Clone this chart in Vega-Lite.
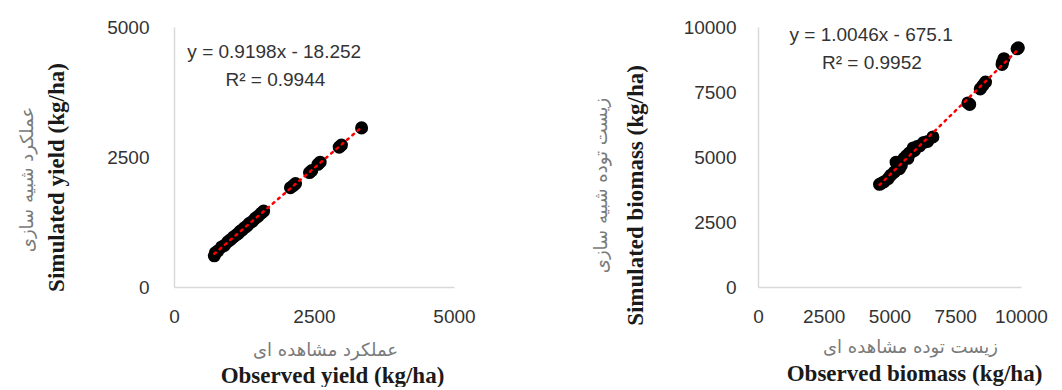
{
  "$schema": "https://vega.github.io/schema/vega-lite/v6.json",
  "background": "white",
  "padding": {"left": 18, "top": 18, "right": 5, "bottom": 0},
  "spacing": 116,
  "datasets": {
    "yield": [
      {"observed": 720, "simulated": 600},
      {"observed": 740, "simulated": 660},
      {"observed": 780, "simulated": 690},
      {"observed": 850, "simulated": 770},
      {"observed": 900, "simulated": 800},
      {"observed": 960, "simulated": 870},
      {"observed": 1010, "simulated": 910},
      {"observed": 1060, "simulated": 960},
      {"observed": 1110, "simulated": 1000},
      {"observed": 1150, "simulated": 1030},
      {"observed": 1180, "simulated": 1070},
      {"observed": 1220, "simulated": 1100},
      {"observed": 1260, "simulated": 1140},
      {"observed": 1300, "simulated": 1170},
      {"observed": 1340, "simulated": 1220},
      {"observed": 1400, "simulated": 1260},
      {"observed": 1450, "simulated": 1320},
      {"observed": 1500, "simulated": 1360},
      {"observed": 1560, "simulated": 1420},
      {"observed": 1600, "simulated": 1460},
      {"observed": 2080, "simulated": 1910},
      {"observed": 2130, "simulated": 1950},
      {"observed": 2170, "simulated": 1990},
      {"observed": 2420, "simulated": 2200},
      {"observed": 2460, "simulated": 2240},
      {"observed": 2570, "simulated": 2360},
      {"observed": 2610, "simulated": 2400},
      {"observed": 2950, "simulated": 2690},
      {"observed": 2990, "simulated": 2730},
      {"observed": 3350, "simulated": 3060}
    ],
    "biomass": [
      {"observed": 4620, "simulated": 3950},
      {"observed": 4700, "simulated": 3990},
      {"observed": 4800, "simulated": 4050},
      {"observed": 4950, "simulated": 4170},
      {"observed": 5050, "simulated": 4300},
      {"observed": 5180, "simulated": 4420},
      {"observed": 5250, "simulated": 4800},
      {"observed": 5300, "simulated": 4700},
      {"observed": 5380, "simulated": 4550},
      {"observed": 5450, "simulated": 4680},
      {"observed": 5550, "simulated": 4950},
      {"observed": 5650, "simulated": 5050},
      {"observed": 5700, "simulated": 4950},
      {"observed": 5750, "simulated": 5150},
      {"observed": 5850, "simulated": 5200},
      {"observed": 5900, "simulated": 5350},
      {"observed": 5950, "simulated": 5250},
      {"observed": 6050, "simulated": 5400},
      {"observed": 6150, "simulated": 5430},
      {"observed": 6300, "simulated": 5560},
      {"observed": 6450, "simulated": 5600},
      {"observed": 6650, "simulated": 5770},
      {"observed": 7980, "simulated": 7080},
      {"observed": 8050, "simulated": 7020},
      {"observed": 8450, "simulated": 7620},
      {"observed": 8550, "simulated": 7750},
      {"observed": 8650, "simulated": 7880},
      {"observed": 9280, "simulated": 8560},
      {"observed": 9300, "simulated": 8650},
      {"observed": 9350, "simulated": 8780},
      {"observed": 9850, "simulated": 9160},
      {"observed": 9900, "simulated": 9200}
    ]
  },
  "config": {
    "view": {"stroke": null},
    "axis": {
      "grid": false,
      "ticks": false,
      "domainColor": "#d9d9d9",
      "domainWidth": 1.5,
      "labelFont": "Liberation Sans",
      "labelFontSize": 19,
      "labelColor": "#333333",
      "labelFlush": false,
      "labelOverlap": false,
      "format": "d"
    }
  },
  "hconcat": [
    {
      "width": 280,
      "height": 260,
      "layer": [
        {
          "data": {"name": "yield"},
          "mark": {"type": "circle", "size": 170, "color": "black", "opacity": 1},
          "encoding": {
            "x": {"field": "observed", "type": "quantitative",
              "scale": {"domain": [0, 5000], "nice": false, "zero": true},
              "axis": {"orient": "bottom", "values": [0, 2500, 5000], "labelPadding": 20, "format": "d",
                "title": "عملکرد مشاهده ای", "titleFont": "DejaVu Sans", "titleFontSize": 18,
                "titleFontWeight": "normal", "titleColor": "#7a7a7a", "titlePadding": 15, "titleX": 151}},
            "y": {"field": "simulated", "type": "quantitative",
              "scale": {"domain": [0, 5000], "nice": false, "zero": true},
              "axis": {"orient": "left", "values": [0, 2500, 5000], "labelPadding": 25, "format": "d",
                "title": "Simulated yield (kg/ha)", "titleFont": "Liberation Serif", "titleFontSize": 23,
                "titleFontWeight": "bold", "titleColor": "#1a1a1a", "titlePadding": 38, "titleY": 150}}
          }
        },
        {
          "data": {"name": "yield"},
          "transform": [{"regression": "simulated", "on": "observed"}],
          "mark": {"type": "line", "color": "#ff0000", "strokeWidth": 2.5, "strokeDash": [2, 5], "strokeCap": "round"},
          "encoding": {
            "x": {"field": "observed", "type": "quantitative",
              "axis": {"orient": "bottom", "labels": false, "domain": false, "ticks": false,
                "title": "Observed yield (kg/ha)", "titleFont": "Liberation Serif", "titleFontSize": 23,
                "titleFontWeight": "bold", "titleColor": "#1a1a1a", "titlePadding": 77, "titleX": 158}},
            "y": {"field": "simulated", "type": "quantitative",
              "axis": {"orient": "left", "labels": false, "domain": false, "ticks": false,
                "title": "عملکرد شبیه سازی", "titleFont": "DejaVu Sans", "titleFontSize": 18,
                "titleFontWeight": "normal", "titleColor": "#7a7a7a", "titlePadding": 138, "titleY": 152}}
          }
        },
        {
          "data": {"values": [{}]},
          "mark": {"type": "text", "font": "Liberation Sans", "fontSize": 19, "color": "#333333", "align": "center", "baseline": "middle", "text": "y = 0.9198x - 18.252"},
          "encoding": {"x": {"datum": 1790, "type": "quantitative", "axis": null}, "y": {"datum": 4520, "type": "quantitative", "axis": null}}
        },
        {
          "data": {"values": [{}]},
          "mark": {"type": "text", "font": "Liberation Sans", "fontSize": 19, "color": "#333333", "align": "center", "baseline": "middle", "text": "R² = 0.9944"},
          "encoding": {"x": {"datum": 1810, "type": "quantitative", "axis": null}, "y": {"datum": 3980, "type": "quantitative", "axis": null}}
        }
      ],
      "resolve": {"axis": {"x": "independent", "y": "independent"}}
    },
    {
      "width": 263,
      "height": 260,
      "layer": [
        {
          "data": {"name": "biomass"},
          "mark": {"type": "circle", "size": 170, "color": "black", "opacity": 1},
          "encoding": {
            "x": {"field": "observed", "type": "quantitative",
              "scale": {"domain": [0, 10000], "nice": false, "zero": true},
              "axis": {"orient": "bottom", "values": [0, 2500, 5000, 7500, 10000], "labelPadding": 20, "format": "d",
                "title": "زیست توده مشاهده ای", "titleFont": "DejaVu Sans", "titleFontSize": 18,
                "titleFontWeight": "normal", "titleColor": "#7a7a7a", "titlePadding": 12, "titleX": 152}},
            "y": {"field": "simulated", "type": "quantitative",
              "scale": {"domain": [0, 10000], "nice": false, "zero": true},
              "axis": {"orient": "left", "values": [0, 2500, 5000, 7500, 10000], "labelPadding": 22, "format": "d",
                "title": "Simulated biomass (kg/ha)", "titleFont": "Liberation Serif", "titleFontSize": 23,
                "titleFontWeight": "bold", "titleColor": "#1a1a1a", "titlePadding": 36, "titleY": 168}}
          }
        },
        {
          "data": {"name": "biomass"},
          "transform": [{"regression": "simulated", "on": "observed"}],
          "mark": {"type": "line", "color": "#ff0000", "strokeWidth": 2.5, "strokeDash": [2, 5], "strokeCap": "round"},
          "encoding": {
            "x": {"field": "observed", "type": "quantitative",
              "axis": {"orient": "bottom", "labels": false, "domain": false, "ticks": false,
                "title": "Observed biomass (kg/ha)", "titleFont": "Liberation Serif", "titleFontSize": 23,
                "titleFontWeight": "bold", "titleColor": "#1a1a1a", "titlePadding": 75, "titleX": 156}},
            "y": {"field": "simulated", "type": "quantitative",
              "axis": {"orient": "left", "labels": false, "domain": false, "ticks": false,
                "title": "زیست توده شبیه سازی", "titleFont": "DejaVu Sans", "titleFontSize": 18,
                "titleFontWeight": "normal", "titleColor": "#7a7a7a", "titlePadding": 148, "titleY": 158}}
          }
        },
        {
          "data": {"values": [{}]},
          "mark": {"type": "text", "font": "Liberation Sans", "fontSize": 19, "color": "#333333", "align": "center", "baseline": "middle", "text": "y = 1.0046x - 675.1"},
          "encoding": {"x": {"datum": 4300, "type": "quantitative", "axis": null}, "y": {"datum": 9690, "type": "quantitative", "axis": null}}
        },
        {
          "data": {"values": [{}]},
          "mark": {"type": "text", "font": "Liberation Sans", "fontSize": 19, "color": "#333333", "align": "center", "baseline": "middle", "text": "R² = 0.9952"},
          "encoding": {"x": {"datum": 4330, "type": "quantitative", "axis": null}, "y": {"datum": 8620, "type": "quantitative", "axis": null}}
        }
      ],
      "resolve": {"axis": {"x": "independent", "y": "independent"}}
    }
  ]
}
